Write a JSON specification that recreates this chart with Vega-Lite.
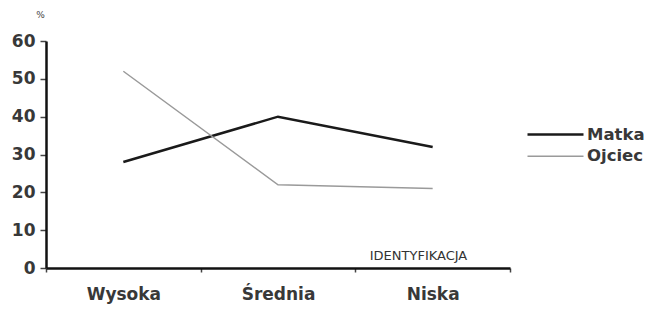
{
  "$schema": "https://vega.github.io/schema/vega-lite/v6.json",
  "autosize": "none",
  "width": 464,
  "height": 227,
  "padding": {"left": 46, "top": 41, "right": 138, "bottom": 45},
  "background": "white",
  "config": {"view": {"stroke": null}, "font": "DejaVu Sans"},
  "data": {"values": [
    {"identyfikacja": "Wysoka", "rodzic": "Matka", "procent": 28},
    {"identyfikacja": "Średnia", "rodzic": "Matka", "procent": 40},
    {"identyfikacja": "Niska", "rodzic": "Matka", "procent": 32},
    {"identyfikacja": "Wysoka", "rodzic": "Ojciec", "procent": 52},
    {"identyfikacja": "Średnia", "rodzic": "Ojciec", "procent": 22},
    {"identyfikacja": "Niska", "rodzic": "Ojciec", "procent": 21}
  ]},
  "mark": {"type": "line"},
  "encoding": {
    "x": {
      "field": "identyfikacja", "type": "nominal",
      "sort": ["Wysoka", "Średnia", "Niska"],
      "scale": {"paddingInner": 0, "paddingOuter": 0},
      "axis": {
        "title": "IDENTYFIKACJA", "titleFontSize": 13, "titleFontWeight": "normal",
        "titleColor": "#333", "titleX": 372, "titleY": -6, "titleBaseline": "bottom",
        "labelAngle": 0, "labelFontSize": 17, "labelFontWeight": "bold", "labelColor": "#383838", "labelPadding": 14,
        "tickBand": "extent", "tickSize": 4, "tickColor": "#444", "tickWidth": 1.5,
        "domainColor": "#111", "domainWidth": 2.5
      }
    },
    "y": {
      "field": "procent", "type": "quantitative",
      "scale": {"domain": [0, 60]},
      "axis": {
        "title": "%", "titleAngle": 0, "titleFontSize": 9, "titleFontWeight": "normal",
        "titleColor": "#444", "titleX": -6, "titleY": -22, "titleAlign": "center",
        "values": [0, 10, 20, 30, 40, 50, 60], "grid": false,
        "labelFontSize": 17, "labelFontWeight": "bold", "labelColor": "#383838", "labelPadding": 5,
        "tickSize": 6, "tickColor": "#444", "tickWidth": 1.5,
        "domainColor": "#111", "domainWidth": 2.5
      }
    },
    "color": {
      "field": "rodzic", "type": "nominal",
      "scale": {"domain": ["Matka", "Ojciec"], "range": ["#1a1a1a", "#9a9a9a"]},
      "legend": {
        "title": null, "orient": "none", "legendX": 501, "legendY": 85,
        "symbolType": "M-4,0H4", "symbolSize": 196, "symbolStrokeWidth": 2.5,
        "labelFontSize": 16.5, "labelFontWeight": "bold", "labelColor": "#383838", "rowPadding": 5, "labelOffset": 23
      }
    },
    "strokeWidth": {
      "field": "rodzic", "type": "nominal",
      "scale": {"domain": ["Matka", "Ojciec"], "range": [2.5, 1.5]},
      "legend": null
    }
  }
}
